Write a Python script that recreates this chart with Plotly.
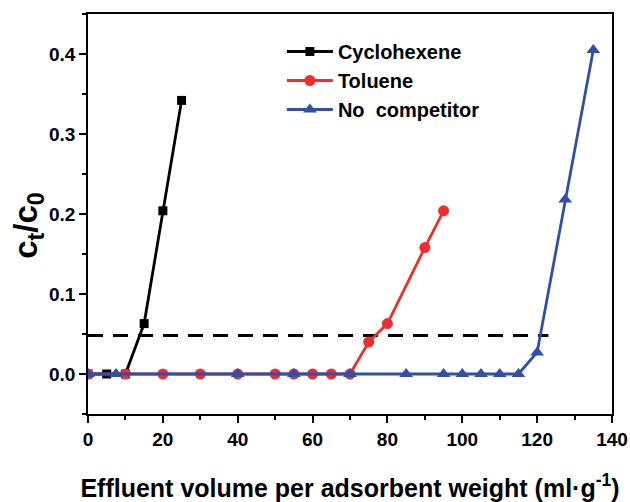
import plotly.graph_objects as go

# Data
cyc_x = [0, 5, 10, 15, 20, 25]
cyc_y = [0, 0, 0, 0.063, 0.204, 0.342]

tol_x = [0, 10, 20, 30, 40, 50, 55, 60, 65, 70, 75, 80, 90, 95]
tol_y = [0, 0, 0, 0, 0, 0, 0, 0, 0, 0, 0.040, 0.063, 0.158, 0.204]

noc_x = [0, 7.5, 40, 55, 70, 85, 95, 100, 105, 110, 115, 120, 127.5, 135]
noc_y = [0, 0, 0, 0, 0, 0, 0, 0, 0, 0, 0, 0.027, 0.218, 0.405]

thr_x = [0, 123]
thr_y = [0.048, 0.048]

FONT = "Liberation Sans, Arial, sans-serif"
BLACK = "#000000"
RED = "#EE2E2E"
BLUE = "#3050A8"

fig = go.Figure()
fig.add_trace(go.Scatter(x=thr_x, y=thr_y, mode="lines", showlegend=False,
                         line=dict(color=BLACK, width=3, dash="15px,10px")))
fig.add_trace(go.Scatter(x=cyc_x, y=cyc_y, mode="lines+markers", name="Cyclohexene",
                         line=dict(color=BLACK, width=2.8),
                         marker=dict(symbol="square", size=9, color=BLACK)))
fig.add_trace(go.Scatter(x=tol_x, y=tol_y, mode="lines+markers", name="Toluene",
                         line=dict(color=RED, width=2.8),
                         marker=dict(symbol="circle", size=11, color=RED)))
fig.add_trace(go.Scatter(x=noc_x, y=noc_y, mode="lines+markers", name="No  competitor",
                         line=dict(color=BLUE, width=2.8),
                         marker=dict(symbol="triangle-up", size=12, color=BLUE)))

axis_common = dict(
    showline=True, linecolor=BLACK, linewidth=1.5, mirror=True,
    ticks="outside", ticklen=7, tickwidth=1.5, tickcolor=BLACK,
    showgrid=False, zeroline=False, automargin=False,
    tickfont=dict(family=FONT, size=19, color=BLACK, weight="bold"),
)

fig.update_xaxes(range=[0, 140], tick0=0, dtick=20,
                 minor=dict(ticks="outside", ticklen=4, tickwidth=1.5, tickcolor=BLACK, dtick=10),
                 title=dict(text="Effluent volume per adsorbent weight (ml·g<sup>-1</sup>)",
                            font=dict(family=FONT, size=25, color=BLACK, weight="bold"),
                            standoff=31),
                 **axis_common)
fig.update_yaxes(range=[-0.05, 0.45], tick0=0, dtick=0.1, tickformat=".1f",
                 minor=dict(ticks="outside", ticklen=4, tickwidth=1.5, tickcolor=BLACK, dtick=0.05),
                 **axis_common)

fig.add_annotation(text="c<sub>t</sub>/c<sub>0</sub>", textangle=-90,
                   xref="paper", yref="paper", x=-0.115, y=0.47,
                   xanchor="center", yanchor="middle", showarrow=False,
                   font=dict(family=FONT, size=33, color=BLACK, weight="bold"))

fig.update_layout(
    width=630, height=502,
    margin=dict(l=88, r=18, t=14, b=88),
    plot_bgcolor="white", paper_bgcolor="white",
    legend=dict(x=0.37, y=0.955, xanchor="left", yanchor="top",
                bgcolor="rgba(0,0,0,0)",
                font=dict(family=FONT, size=20, color=BLACK, weight="bold"),
                tracegroupgap=0, itemwidth=46),
)

fig.write_html("out.html")
